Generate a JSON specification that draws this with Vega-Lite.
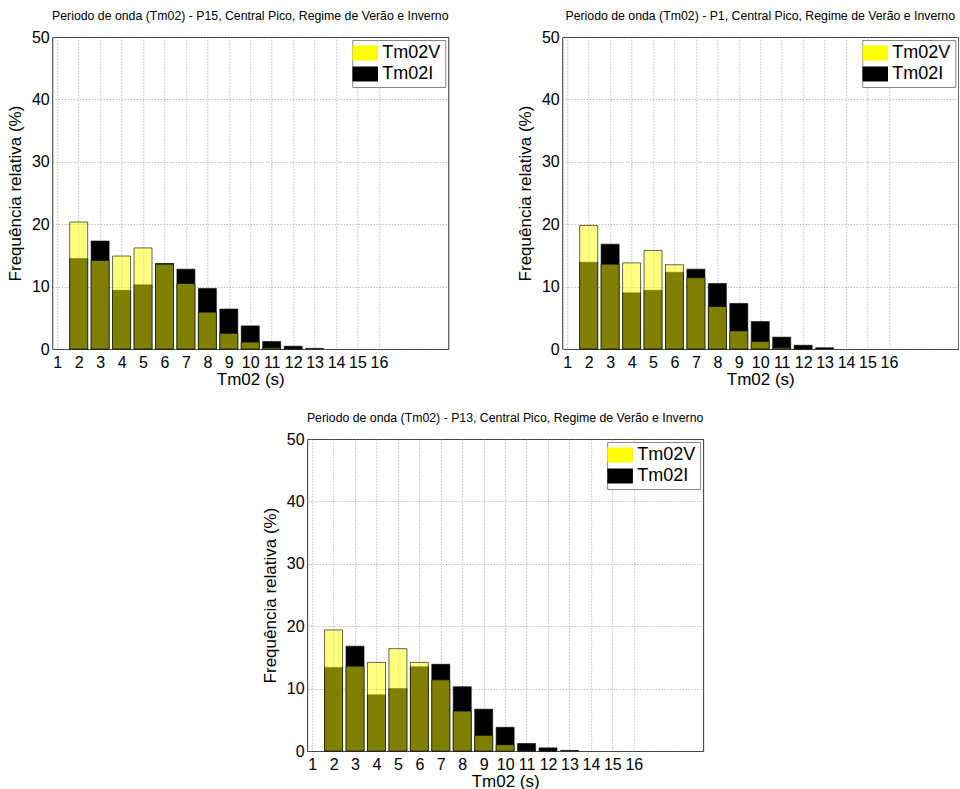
{
  "$schema": "https://vega.github.io/schema/vega-lite/v6.json",
  "padding": {"left": 5, "top": 9, "right": 0, "bottom": 0},
  "background": "#ffffff",
  "data": {
    "values": [
      {"panel": "P15", "serie": "Tm02V", "x": 2, "value": 20.35},
      {"panel": "P15", "serie": "Tm02V", "x": 3, "value": 14.2},
      {"panel": "P15", "serie": "Tm02V", "x": 4, "value": 14.9},
      {"panel": "P15", "serie": "Tm02V", "x": 5, "value": 16.2},
      {"panel": "P15", "serie": "Tm02V", "x": 6, "value": 13.6},
      {"panel": "P15", "serie": "Tm02V", "x": 7, "value": 10.5},
      {"panel": "P15", "serie": "Tm02V", "x": 8, "value": 5.9},
      {"panel": "P15", "serie": "Tm02V", "x": 9, "value": 2.5},
      {"panel": "P15", "serie": "Tm02V", "x": 10, "value": 1.1},
      {"panel": "P15", "serie": "Tm02V", "x": 11, "value": 0.2},
      {"panel": "P15", "serie": "Tm02V", "x": 12, "value": 0.05},
      {"panel": "P15", "serie": "Tm02I", "x": 2, "value": 14.5},
      {"panel": "P15", "serie": "Tm02I", "x": 3, "value": 17.3},
      {"panel": "P15", "serie": "Tm02I", "x": 4, "value": 9.4},
      {"panel": "P15", "serie": "Tm02I", "x": 5, "value": 10.3},
      {"panel": "P15", "serie": "Tm02I", "x": 6, "value": 13.7},
      {"panel": "P15", "serie": "Tm02I", "x": 7, "value": 12.8},
      {"panel": "P15", "serie": "Tm02I", "x": 8, "value": 9.7},
      {"panel": "P15", "serie": "Tm02I", "x": 9, "value": 6.4},
      {"panel": "P15", "serie": "Tm02I", "x": 10, "value": 3.7},
      {"panel": "P15", "serie": "Tm02I", "x": 11, "value": 1.2},
      {"panel": "P15", "serie": "Tm02I", "x": 12, "value": 0.45},
      {"panel": "P15", "serie": "Tm02I", "x": 13, "value": 0.1},

      {"panel": "P1", "serie": "Tm02V", "x": 2, "value": 19.8},
      {"panel": "P1", "serie": "Tm02V", "x": 3, "value": 13.6},
      {"panel": "P1", "serie": "Tm02V", "x": 4, "value": 13.8},
      {"panel": "P1", "serie": "Tm02V", "x": 5, "value": 15.8},
      {"panel": "P1", "serie": "Tm02V", "x": 6, "value": 13.5},
      {"panel": "P1", "serie": "Tm02V", "x": 7, "value": 11.4},
      {"panel": "P1", "serie": "Tm02V", "x": 8, "value": 6.8},
      {"panel": "P1", "serie": "Tm02V", "x": 9, "value": 2.9},
      {"panel": "P1", "serie": "Tm02V", "x": 10, "value": 1.2},
      {"panel": "P1", "serie": "Tm02V", "x": 11, "value": 0.2},
      {"panel": "P1", "serie": "Tm02V", "x": 12, "value": 0.05},
      {"panel": "P1", "serie": "Tm02I", "x": 2, "value": 13.9},
      {"panel": "P1", "serie": "Tm02I", "x": 3, "value": 16.8},
      {"panel": "P1", "serie": "Tm02I", "x": 4, "value": 9.0},
      {"panel": "P1", "serie": "Tm02I", "x": 5, "value": 9.4},
      {"panel": "P1", "serie": "Tm02I", "x": 6, "value": 12.3},
      {"panel": "P1", "serie": "Tm02I", "x": 7, "value": 12.8},
      {"panel": "P1", "serie": "Tm02I", "x": 8, "value": 10.5},
      {"panel": "P1", "serie": "Tm02I", "x": 9, "value": 7.3},
      {"panel": "P1", "serie": "Tm02I", "x": 10, "value": 4.4},
      {"panel": "P1", "serie": "Tm02I", "x": 11, "value": 1.9},
      {"panel": "P1", "serie": "Tm02I", "x": 12, "value": 0.6},
      {"panel": "P1", "serie": "Tm02I", "x": 13, "value": 0.2},

      {"panel": "P13", "serie": "Tm02V", "x": 2, "value": 19.4},
      {"panel": "P13", "serie": "Tm02V", "x": 3, "value": 13.6},
      {"panel": "P13", "serie": "Tm02V", "x": 4, "value": 14.2},
      {"panel": "P13", "serie": "Tm02V", "x": 5, "value": 16.4},
      {"panel": "P13", "serie": "Tm02V", "x": 6, "value": 14.2},
      {"panel": "P13", "serie": "Tm02V", "x": 7, "value": 11.4},
      {"panel": "P13", "serie": "Tm02V", "x": 8, "value": 6.4},
      {"panel": "P13", "serie": "Tm02V", "x": 9, "value": 2.5},
      {"panel": "P13", "serie": "Tm02V", "x": 10, "value": 1.0},
      {"panel": "P13", "serie": "Tm02V", "x": 11, "value": 0.1},
      {"panel": "P13", "serie": "Tm02V", "x": 12, "value": 0.03},
      {"panel": "P13", "serie": "Tm02I", "x": 2, "value": 13.4},
      {"panel": "P13", "serie": "Tm02I", "x": 3, "value": 16.8},
      {"panel": "P13", "serie": "Tm02I", "x": 4, "value": 9.0},
      {"panel": "P13", "serie": "Tm02I", "x": 5, "value": 10.0},
      {"panel": "P13", "serie": "Tm02I", "x": 6, "value": 13.5},
      {"panel": "P13", "serie": "Tm02I", "x": 7, "value": 13.9},
      {"panel": "P13", "serie": "Tm02I", "x": 8, "value": 10.3},
      {"panel": "P13", "serie": "Tm02I", "x": 9, "value": 6.7},
      {"panel": "P13", "serie": "Tm02I", "x": 10, "value": 3.8},
      {"panel": "P13", "serie": "Tm02I", "x": 11, "value": 1.2},
      {"panel": "P13", "serie": "Tm02I", "x": 12, "value": 0.5},
      {"panel": "P13", "serie": "Tm02I", "x": 13, "value": 0.1}
    ]
  },
  "spacing": 23,
  "center": true,
  "resolve": {"scale": {"color": "independent"}, "legend": {"color": "independent"}},
  "vconcat": [
    {
      "spacing": 66,
      "resolve": {"scale": {"color": "independent"}, "legend": {"color": "independent"}},
      "hconcat": [
        {
          "width": 396, "height": 312,
          "title": "Periodo de onda (Tm02) - P15, Central Pico, Regime de Verão e Inverno",
          "transform": [{"filter": "datum.panel === 'P15'"}],
          "encoding": {
            "x": {"field": "x", "type": "quantitative", "scale": {"domain": [1, 19], "nice": false, "zero": false}, "axis": {"values": [1,2,3,4,5,6,7,8,9,10,11,12,13,14,15,16], "title": "Tm02 (s)"}},
            "y": {"field": "value", "type": "quantitative", "stack": null, "scale": {"domain": [0, 50], "nice": false}, "axis": {"values": [0,10,20,30,40,50], "title": "Frequência relativa (%)"}},
            "color": {"field": "serie", "type": "nominal", "scale": {"domain": ["Tm02V", "Tm02I"], "range": ["#ffff00", "#000000"]}, "legend": {"title": null}}
          },
          "layer": [
            {"transform": [{"filter": "datum.serie === 'Tm02I'"}], "mark": {"type": "bar", "size": 18, "stroke": "#000", "strokeWidth": 0.6}},
            {"transform": [{"filter": "datum.serie === 'Tm02V'"}], "mark": {"type": "bar", "size": 18, "fillOpacity": 0.5, "stroke": "#000", "strokeWidth": 0.6}}
          ]
        },
        {
          "width": 396, "height": 312,
          "title": "Periodo de onda (Tm02) - P1, Central Pico, Regime de Verão e Inverno",
          "transform": [{"filter": "datum.panel === 'P1'"}],
          "encoding": {
            "x": {"field": "x", "type": "quantitative", "scale": {"domain": [1, 19], "nice": false, "zero": false}, "axis": {"values": [1,2,3,4,5,6,7,8,9,10,11,12,13,14,15,16], "title": "Tm02 (s)"}},
            "y": {"field": "value", "type": "quantitative", "stack": null, "scale": {"domain": [0, 50], "nice": false}, "axis": {"values": [0,10,20,30,40,50], "title": "Frequência relativa (%)"}},
            "color": {"field": "serie", "type": "nominal", "scale": {"domain": ["Tm02V", "Tm02I"], "range": ["#ffff00", "#000000"]}, "legend": {"title": null}}
          },
          "layer": [
            {"transform": [{"filter": "datum.serie === 'Tm02I'"}], "mark": {"type": "bar", "size": 18, "stroke": "#000", "strokeWidth": 0.6}},
            {"transform": [{"filter": "datum.serie === 'Tm02V'"}], "mark": {"type": "bar", "size": 18, "fillOpacity": 0.5, "stroke": "#000", "strokeWidth": 0.6}}
          ]
        }
      ]
    },
    {
      "width": 396, "height": 312,
      "title": "Periodo de onda (Tm02) - P13, Central Pico, Regime de Verão e Inverno",
      "transform": [{"filter": "datum.panel === 'P13'"}],
      "encoding": {
        "x": {"field": "x", "type": "quantitative", "scale": {"domain": [1, 19], "nice": false, "zero": false}, "axis": {"values": [1,2,3,4,5,6,7,8,9,10,11,12,13,14,15,16], "title": "Tm02 (s)"}},
        "y": {"field": "value", "type": "quantitative", "stack": null, "scale": {"domain": [0, 50], "nice": false}, "axis": {"values": [0,10,20,30,40,50], "title": "Frequência relativa (%)"}},
        "color": {"field": "serie", "type": "nominal", "scale": {"domain": ["Tm02V", "Tm02I"], "range": ["#ffff00", "#000000"]}, "legend": {"title": null}}
      },
      "layer": [
        {"transform": [{"filter": "datum.serie === 'Tm02I'"}], "mark": {"type": "bar", "size": 18, "stroke": "#000", "strokeWidth": 0.6}},
        {"transform": [{"filter": "datum.serie === 'Tm02V'"}], "mark": {"type": "bar", "size": 18, "fillOpacity": 0.5, "stroke": "#000", "strokeWidth": 0.6}}
      ]
    }
  ],
  "config": {
    "font": "Liberation Sans",
    "view": {"stroke": "#333333", "strokeWidth": 1},
    "title": {"font": "Liberation Sans", "fontSize": 12.3, "fontWeight": "normal", "color": "#000", "offset": 7, "anchor": "middle"},
    "axis": {
      "labelFont": "Liberation Sans", "labelFontSize": 16, "labelColor": "#000",
      "titleFont": "Liberation Sans", "titleFontSize": 17, "titleFontWeight": "normal", "titleColor": "#000",
      "grid": true, "gridDash": [1, 2], "gridColor": "#888888", "gridWidth": 0.8,
      "domain": false, "ticks": false, "labelFlush": false
    },
    "axisX": {"labelPadding": 5, "titlePadding": 1, "labelOverlap": false},
    "axisY": {"labelPadding": 3, "titlePadding": 7},
    "legend": {
      "orient": "top-right", "offset": 3, "padding": 4,
      "strokeColor": "#888888", "fillColor": "#ffffff",
      "labelFont": "Liberation Sans", "labelFontSize": 18, "labelColor": "#000",
      "symbolType": "M-1.7,-1L1.7,-1L1.7,1L-1.7,1Z", "symbolSize": 225,
      "symbolOpacity": 1, "symbolStrokeWidth": 0, "labelOffset": 8, "rowPadding": 3
    }
  }
}
